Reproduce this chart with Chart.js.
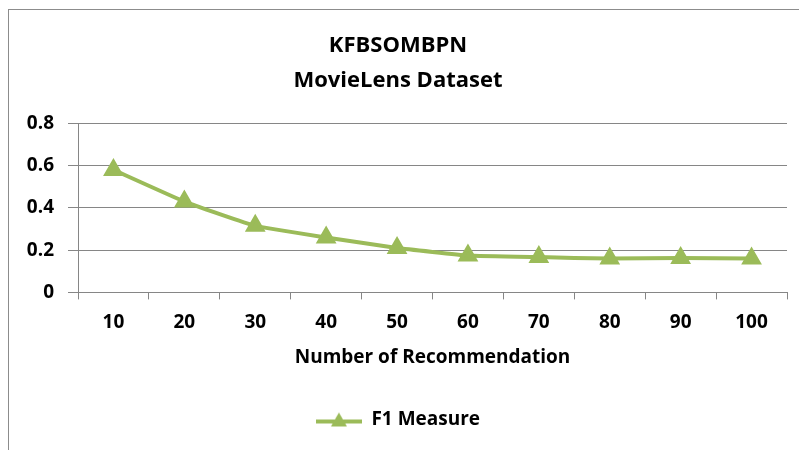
<!DOCTYPE html>
<html>
<head>
<meta charset="utf-8">
<script src="https://cdn.jsdelivr.net/npm/chart.js@4.4.0/dist/chart.umd.min.js"></script>
<style>
  html, body { margin: 0; padding: 0; background: #fff; overflow: hidden; }
  #quadro {
    position: absolute; left: 8px; top: 9px;
    width: 800px; height: 450px;
    border: 1px solid #8c8c8c;
  }
  #quadro canvas { display: block; }
</style>
</head>
<body>
<div id="quadro"><canvas id="grafico" width="800" height="450"></canvas></div>
<script>
// dados
var recomendacoes = ['10', '20', '30', '40', '50', '60', '70', '80', '90', '100'];
var f1Measure = [0.58, 0.43, 0.315, 0.26, 0.21, 0.175, 0.167, 0.16, 0.163, 0.16];
var ticksY = [0, 0.2, 0.4, 0.6, 0.8];

var verde = '#9BBB59';
var fonte = "'Open Sans', 'DejaVu Sans', sans-serif";

// marcador da legenda: linha com triângulo
function marcadorLegenda() {
    var c = document.createElement('canvas');
    c.width = 46; c.height = 16;
    var g = c.getContext('2d');
    g.strokeStyle = verde;
    g.lineWidth = 4;
    g.beginPath();
    g.moveTo(0, 10); g.lineTo(46, 10);
    g.stroke();
    g.fillStyle = verde;
    g.beginPath();
    g.moveTo(23, 1); g.lineTo(31, 15); g.lineTo(15, 15);
    g.closePath();
    g.fill();
    return c;
}

var ctx = document.getElementById('grafico').getContext('2d');
new Chart(ctx, {
    type: 'line',
    data: {
        labels: recomendacoes,
        datasets: [{
            label: 'F1 Measure',
            data: f1Measure,
            borderColor: verde,
            backgroundColor: verde,
            borderWidth: 4,
            pointStyle: 'triangle',
            pointRadius: 8,
            pointHoverRadius: 8,
            pointBackgroundColor: verde,
            pointBorderColor: verde,
            tension: 0.1
        }]
    },
    options: {
        responsive: false,
        animation: false,
        layout: { padding: { left: 0, right: 22, top: 0, bottom: 21 } },
        plugins: {
            title: {
                display: true,
                text: ['KFBSOMBPN', 'MovieLens Dataset'],
                color: '#000',
                font: { family: fonte, size: 22, weight: 'bold', lineHeight: 1.6 },
                padding: { top: 18, bottom: 25 }
            },
            legend: {
                position: 'bottom',
                labels: {
                    usePointStyle: true,
                    pointStyle: marcadorLegenda(),
                    pointStyleWidth: 46,
                    color: '#000',
                    font: { family: fonte, size: 19, weight: 'bold' },
                    padding: 10
                }
            },
            tooltip: { enabled: false }
        },
        scales: {
            x: {
                offset: true,
                grid: {
                    offset: true,
                    drawOnChartArea: false,
                    drawTicks: true,
                    tickLength: 7,
                    color: '#868686'
                },
                border: { color: '#868686', width: 1 },
                ticks: {
                    color: '#000',
                    font: { family: fonte, size: 19, weight: 'bold' },
                    padding: 12
                },
                title: {
                    display: true,
                    text: 'Number of Recommendation',
                    color: '#000',
                    font: { family: fonte, size: 19, weight: 'bold' },
                    padding: { top: 0, bottom: 31 }
                }
            },
            y: {
                min: 0,
                max: 0.8,
                afterBuildTicks: function(scale) {
                    scale.ticks = ticksY.map(function(v) { return { value: v }; });
                },
                afterFit: function(scale) {
                    scale.width = 69;
                },
                grid: {
                    color: '#868686',
                    tickLength: 10
                },
                border: { color: '#868686', width: 1 },
                ticks: {
                    color: '#000',
                    font: { family: fonte, size: 19, weight: 'bold' },
                    padding: 14
                }
            }
        }
    }
});
</script>
</body>
</html>
